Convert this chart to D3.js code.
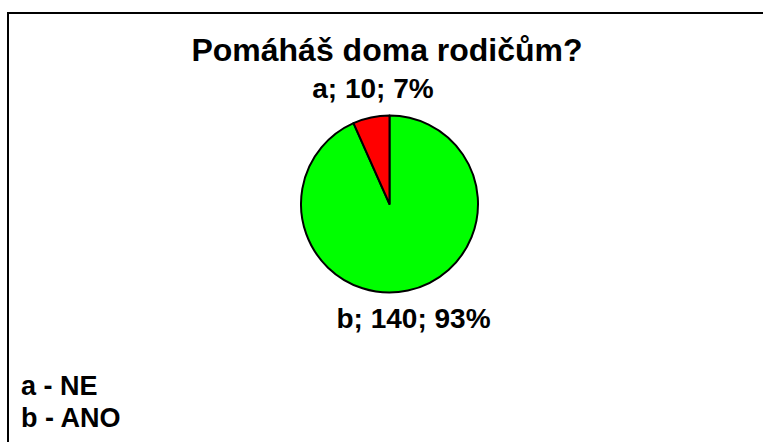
<!DOCTYPE html>
<html>
<head>
<meta charset="utf-8">
<script src="https://cdn.jsdelivr.net/npm/d3@7"></script>
<style>
  body { margin: 0; background: #fff; }
  text { font-family: "Liberation Sans", Arial, sans-serif; font-weight: bold; fill: #000; }
</style>
</head>
<body>
<div id="chart"></div>
<script>
// data
let categories = ["a", "b"];
let answers = ["NE", "ANO"];
let counts = [10, 140];
let sliceColors = ["#ff0000", "#00ff00"];

let width = 763, height = 442;

let svg = d3.select("#chart")
    .append("svg")
    .attr("width", width)
    .attr("height", height);

// chart frame (right and bottom edge fall outside the picture)
svg.append("path")
    .attr("d", "M8,460V13H780")
    .attr("fill", "none")
    .attr("stroke", "#000")
    .attr("stroke-width", 2);

// title
svg.append("text")
    .attr("x", 387)
    .attr("y", 61)
    .attr("text-anchor", "middle")
    .style("font-size", "32px")
    .text("Pomáháš doma rodičům?");

let total = d3.sum(counts);
let slices = categories.map(function (c, i) {
    return { cat: c, value: counts[i], color: sliceColors[i] };
});

let cx = 389.5, cy = 204, r = 88.5;

// b first so the small slice a ends at 12 o'clock
let pie = d3.pie()
    .sort(null)
    .value(function (d) { return d.value; });
let arcs = pie([slices[1], slices[0]]);

let arc = d3.arc().innerRadius(0).outerRadius(r);

let g = svg.append("g")
    .attr("transform", "translate(" + cx + "," + cy + ")");

g.selectAll("path")
    .data(arcs)
    .enter()
    .append("path")
    .attr("d", arc)
    .attr("fill", function (d) { return d.data.color; })
    .attr("stroke", "#000")
    .attr("stroke-width", 2)
    .attr("stroke-linejoin", "round");

// data labels
let labelPos = { a: [373, 98], b: [413.5, 327.5] };
svg.selectAll("dataLabels")
    .data(slices)
    .enter()
    .append("text")
    .attr("x", function (d) { return labelPos[d.cat][0]; })
    .attr("y", function (d) { return labelPos[d.cat][1]; })
    .attr("text-anchor", "middle")
    .style("font-size", "28px")
    .text(function (d) {
        return d.cat + "; " + d.value + "; " + Math.round(d.value / total * 100) + "%";
    });

// legend
svg.selectAll("legendLabels")
    .data(categories)
    .enter()
    .append("text")
    .attr("x", 21)
    .attr("y", function (d, i) { return 395 + i * 32; })
    .style("font-size", "27px")
    .text(function (d, i) { return d + " - " + answers[i]; });
</script>
</body>
</html>
